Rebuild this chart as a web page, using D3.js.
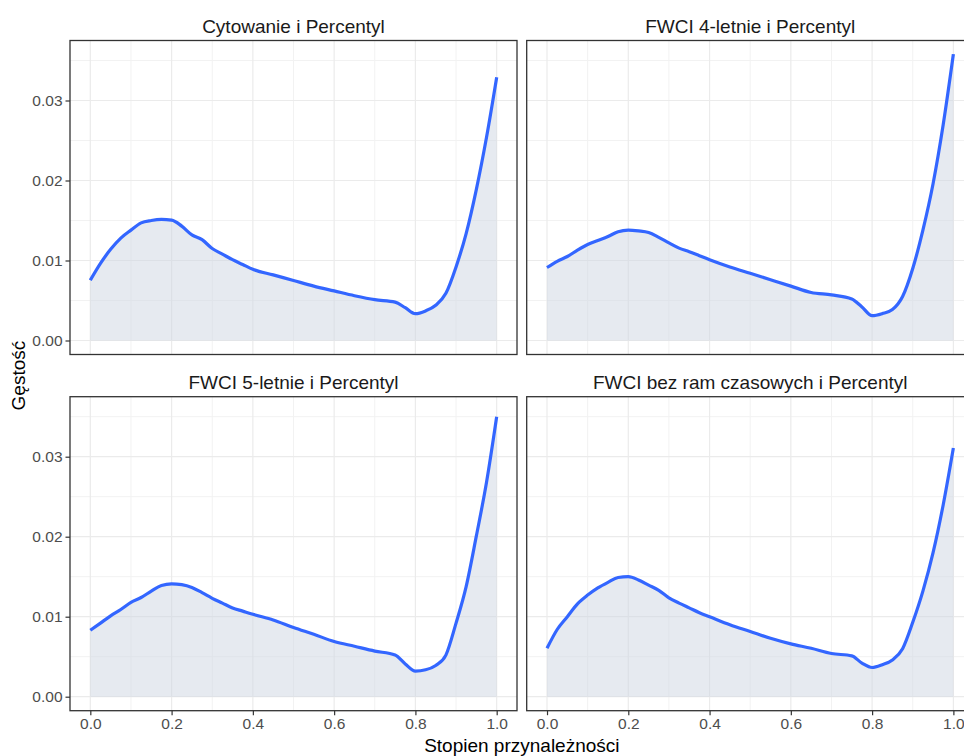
<!DOCTYPE html>
<html>
<head>
<meta charset="utf-8">
<script src="https://cdn.jsdelivr.net/npm/d3@7"></script>
<style>
  html, body { margin: 0; padding: 0; background: #fff; }
  svg { display: block; font-family: "Liberation Sans", Arial, sans-serif; }
</style>
</head>
<body>
<svg id="chart" width="964" height="756"></svg>
<script>
// ---------- data (gęstość x 1000) ----------
var xs = [0, .025, .05, .075, .1, .125, .15, .175, .2, .225, .25, .275, .3, .325, .35, .375, .4,
  .45, .5, .55, .6, .65, .7, .75, .775, .8, .825, .85, .875, .9, .925, .95, .975, 1];
var cytowanie = [7.54, 9.64, 11.4, 12.8, 13.8, 14.7, 15.0, 15.13, 15.05, 14.3, 13.2, 12.6, 11.5, 10.8, 10.1, 9.5, 8.9,
  8.2, 7.5, 6.8, 6.2, 5.6, 5.1, 4.8, 4.1, 3.35, 3.7, 4.4, 5.9, 9.2, 13.4, 18.9, 25.4, 32.9];
var fwci4 = [9.12, 9.9, 10.5, 11.3, 12.0, 12.5, 13.0, 13.6, 13.8, 13.7, 13.5, 12.9, 12.2, 11.55, 11.1, 10.6, 10.1,
  9.2, 8.4, 7.6, 6.8, 6.0, 5.7, 5.2, 4.2, 3.1, 3.36, 3.87, 5.5, 9.0, 13.8, 19.6, 27.0, 35.8];
var fwci5 = [8.3, 9.2, 10.1, 10.9, 11.8, 12.4, 13.2, 13.9, 14.1, 14.0, 13.65, 13.0, 12.3, 11.7, 11.1, 10.7, 10.3,
  9.6, 8.65, 7.8, 6.9, 6.3, 5.7, 5.2, 4.1, 3.2, 3.36, 3.9, 5.2, 9.2, 13.8, 20.1, 26.8, 35.0];
var fwciBez = [6.05, 8.4, 10.0, 11.6, 12.7, 13.6, 14.3, 14.9, 15.0, 14.6, 13.95, 13.3, 12.35, 11.7, 11.1, 10.5, 10.0,
  9.0, 8.15, 7.3, 6.6, 6.05, 5.4, 5.1, 4.2, 3.65, 4.0, 4.6, 6.0, 9.3, 13.2, 18.0, 24.0, 31.1];
var titles = ["Cytowanie i Percentyl", "FWCI 4-letnie i Percentyl", "FWCI 5-letnie i Percentyl", "FWCI bez ram czasowych i Percentyl"];
var yTicks = [0, 0.01, 0.02, 0.03];
var yTickLabels = ["0.00", "0.01", "0.02", "0.03"];
var xTicks = [0, 0.2, 0.4, 0.6, 0.8, 1.0];
var xTickLabels = ["0.0", "0.2", "0.4", "0.6", "0.8", "1.0"];
var xMinor = [0.1, 0.3, 0.5, 0.7, 0.9];
var yMinor = [0.005, 0.015, 0.025, 0.035];

var series = [cytowanie, fwci4, fwci5, fwciBez];

// ---------- layout ----------
var svg = d3.select("#chart");
var panelW = 447, panelH = 314;
var colX = [70, 526.7], rowY = [40.5, 396.7];

var x = d3.scaleLinear().domain([-0.05, 1.05]);
var y = d3.scaleLinear().domain([-0.00175, 0.0375]);

series.forEach(function (vals, i) {
  var col = i % 2, row = Math.floor(i / 2);
  var px = colX[col], py = rowY[row];
  var sx = x.copy().range([px, px + panelW]);
  var sy = y.copy().range([py + panelH, py]);
  var g = svg.append("g");
  var data = xs.map(function (d, k) { return { x: d, y: vals[k] / 1000 }; });

  // grid
  g.selectAll(".vmin").data(xMinor).enter().append("line")
    .attr("x1", sx).attr("x2", sx).attr("y1", py).attr("y2", py + panelH)
    .attr("stroke", "#f2f2f2").attr("stroke-width", 1);
  g.selectAll(".hmin").data(yMinor).enter().append("line")
    .attr("x1", px).attr("x2", px + panelW).attr("y1", sy).attr("y2", sy)
    .attr("stroke", "#f2f2f2").attr("stroke-width", 1);
  g.selectAll(".vmaj").data(xTicks).enter().append("line")
    .attr("x1", sx).attr("x2", sx).attr("y1", py).attr("y2", py + panelH)
    .attr("stroke", "#ebebeb").attr("stroke-width", 1.2);
  g.selectAll(".hmaj").data(yTicks).enter().append("line")
    .attr("x1", px).attr("x2", px + panelW).attr("y1", sy).attr("y2", sy)
    .attr("stroke", "#ebebeb").attr("stroke-width", 1.2);

  // area + line
  var area = d3.area().x(function (d) { return sx(d.x); }).y0(sy(0)).y1(function (d) { return sy(d.y); }).curve(d3.curveMonotoneX);
  var line = d3.line().x(function (d) { return sx(d.x); }).y(function (d) { return sy(d.y); }).curve(d3.curveMonotoneX);
  g.append("path").datum(data).attr("d", area).attr("fill", "rgba(205,213,226,0.5)");
  g.append("path").datum(data).attr("d", line).attr("fill", "none")
    .attr("stroke", "#3366FF").attr("stroke-width", 3.2).attr("stroke-linejoin", "round");

  // border
  g.append("rect").attr("x", px).attr("y", py).attr("width", panelW).attr("height", panelH)
    .attr("fill", "none").attr("stroke", "#333333").attr("stroke-width", 1.3);

  // strip title
  g.append("text").attr("x", px + panelW / 2).attr("y", py - 7.5).attr("text-anchor", "middle")
    .attr("font-size", 19).attr("fill", "#1a1a1a").text(titles[i]);

  // y axis (left column)
  if (col === 0) {
    var ya = d3.axisLeft(sy).tickValues(yTicks).tickFormat(function (d, k) { return yTickLabels[k]; }).tickSize(4.5).tickPadding(3);
    var yg = g.append("g").attr("transform", "translate(" + px + ",0)").call(ya);
    yg.select(".domain").remove();
    yg.selectAll("line").attr("stroke", "#333333").attr("stroke-width", 1.2);
    yg.selectAll("text").attr("font-size", 15.5).attr("fill", "#4d4d4d").attr("font-family", "Liberation Sans, Arial, sans-serif");
  }
  // x axis (bottom row)
  if (row === 1) {
    var xa = d3.axisBottom(sx).tickValues(xTicks).tickFormat(function (d, k) { return xTickLabels[k]; }).tickSize(4.5).tickPadding(3);
    var xg = g.append("g").attr("transform", "translate(0," + (py + panelH) + ")").call(xa);
    xg.select(".domain").remove();
    xg.selectAll("line").attr("stroke", "#333333").attr("stroke-width", 1.2);
    xg.selectAll("text").attr("font-size", 15.5).attr("fill", "#4d4d4d").attr("font-family", "Liberation Sans, Arial, sans-serif");
  }
});

// ---------- axis titles ----------
svg.append("text").attr("x", (colX[0] + colX[1] + panelW) / 2).attr("y", 752)
  .attr("text-anchor", "middle").attr("font-size", 19).attr("fill", "#000").text("Stopien przynależności");
svg.append("text").attr("transform", "translate(25," + ((rowY[0] + rowY[1] + panelH) / 2) + ") rotate(-90)")
  .attr("text-anchor", "middle").attr("font-size", 19).attr("fill", "#000").text("Gęstość");
</script>
</body>
</html>
